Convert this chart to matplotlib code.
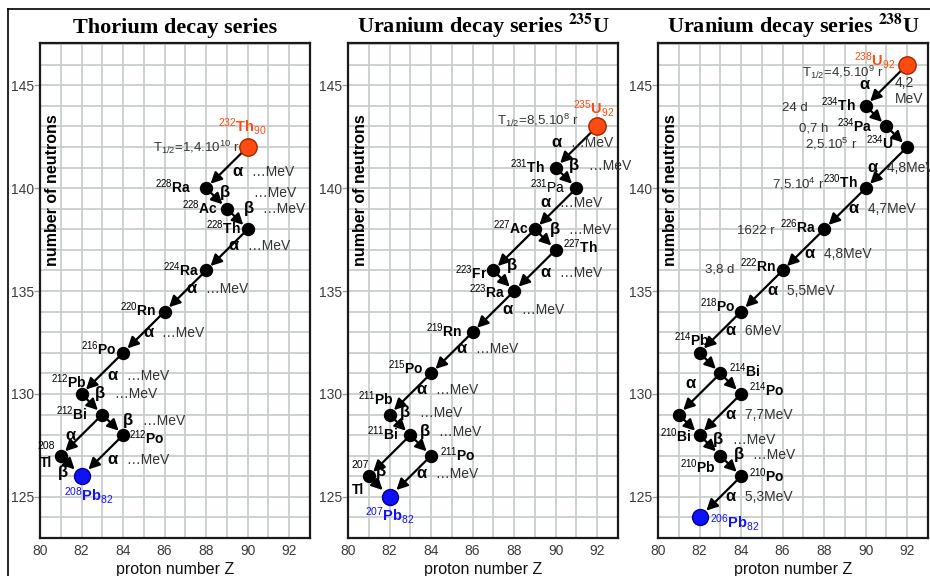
import matplotlib.pyplot as plt
from matplotlib.lines import Line2D

plt.rcParams['font.family'] = ['Liberation Sans', 'DejaVu Sans']
plt.rcParams['mathtext.fontset'] = 'custom'
plt.rcParams['mathtext.rm'] = 'Liberation Sans'
plt.rcParams['mathtext.it'] = 'Liberation Sans:italic'
plt.rcParams['mathtext.bf'] = 'Liberation Sans:bold'

# ---------------- thorium series 232Th -> 208Pb ----------------
th_sym = ['Th', 'Ra', 'Ac', 'Th', 'Ra', 'Rn', 'Po', 'Pb', 'Bi', 'Po', 'Tl', 'Pb']
th_mass = [232, 228, 228, 228, 224, 220, 216, 212, 212, 212, 208, 208]
th_z = [90, 88, 89, 90, 88, 86, 84, 82, 83, 84, 81, 82]
th_n = [142, 140, 139, 138, 136, 134, 132, 130, 129, 128, 127, 126]
th_decay = [(0, 1), (1, 2), (2, 3), (3, 4), (4, 5), (5, 6), (6, 7), (7, 8),
            (8, 9), (8, 10), (9, 11), (10, 11)]
th_energy = ['…MeV', '…MeV', '…MeV', '…MeV', '…MeV', '…MeV', '…MeV', '…MeV',
             '…MeV', '', '…MeV', '']
th_half = {0: 'T$_{1/2}$=1,4.10$^{10}$ r'}

# ---------------- uranium 235 series ----------------
u5_sym = ['U', 'Th', 'Pa', 'Ac', 'Th', 'Fr', 'Ra', 'Rn', 'Po', 'Pb', 'Bi', 'Po', 'Tl', 'Pb']
u5_mass = [235, 231, 231, 227, 227, 223, 223, 219, 215, 211, 211, 211, 207, 207]
u5_z = [92, 90, 91, 89, 90, 87, 88, 86, 84, 82, 83, 84, 81, 82]
u5_n = [143, 141, 140, 138, 137, 136, 135, 133, 131, 129, 128, 127, 126, 125]
u5_decay = [(0, 1), (1, 2), (2, 3), (3, 4), (3, 5), (4, 6), (5, 6), (6, 7), (7, 8),
            (8, 9), (9, 10), (10, 11), (10, 12), (11, 13), (12, 13)]
u5_energy = ['…MeV', '…MeV', '…MeV', '…MeV', None, '…MeV', '', '…MeV', '…MeV',
             '…MeV', '…MeV', '…MeV', None, '…MeV', '']
u5_half = {0: 'T$_{1/2}$=8,5.10$^{8}$ r'}

# ---------------- uranium 238 series ----------------
u8_sym = ['U', 'Th', 'Pa', 'U', 'Th', 'Ra', 'Rn', 'Po', 'Pb', 'Bi', 'Po', 'Tl',
          'Bi', 'Pb', 'Po', 'Pb']
u8_mass = [238, 234, 234, 234, 230, 226, 222, 218, 214, 214, 214, 210, 210, 210, 210, 206]
u8_z = [92, 90, 91, 92, 90, 88, 86, 84, 82, 83, 84, 81, 82, 83, 84, 82]
u8_n = [146, 144, 143, 142, 140, 138, 136, 134, 132, 131, 130, 129, 128, 127, 126, 124]
u8_decay = [(0, 1), (1, 2), (2, 3), (3, 4), (4, 5), (5, 6), (6, 7), (7, 8), (8, 9),
            (9, 10), (9, 11), (10, 12), (11, 12), (12, 13), (13, 14), (14, 15)]
u8_energy = ['4,2\nMeV', None, None, '4,8MeV', '4,7MeV', '4,8MeV', '5,5MeV', '6MeV',
             None, None, '', '7,7MeV', None, '…MeV', '…MeV', '5,3MeV']
u8_half = {0: 'T$_{1/2}$=4,5.10$^{9}$ r', 1: '24 d', 2: '0,7 h', 3: '2,5.10$^{5}$ r',
           4: '7,5.10$^{4}$ r', 5: '1622 r', 6: '3,8 d'}

x_ticks = [80, 82, 84, 86, 88, 90, 92]
y_ticks = [125, 130, 135, 140, 145]

# ---------------- label placement (offsets in Z / N units) ----------------
th_lab = [(-0.24, 1.0, 'center'), (-0.72, 0, 'right'), (-0.45, 0, 'right'),
          (-0.35, 0, 'right'), (-0.3, 0, 'right'), (-0.42, 0.05, 'right'),
          (-0.32, 0.13, 'right'), (0.24, 0.53, 'right'), (-0.72, 0, 'right'),
          (0.3, -0.2, 'left'), None, (0.35, -0.92, 'center')]
th_split = {10: ((-0.3, 0.48), (-0.42, -0.35))}
th_arr = [(0.5, -0.2), (0.4, 0.3), (0.55, 0.5), (0.3, 0.2), (0.3, 0.1), (0.2, 0),
          (0.5, -0.1), (0.4, 0.5), (0.75, 0.2), (-0.55, 0), (0.5, -0.2), (-0.4, -0.3)]
th_half_off = {0: (-0.4, 0.0)}
th_egap = {1: 1.2}

u5_lab = [(-0.16, 0.86, 'center'), (-0.5, 0, 'right'), (-0.5, 0, 'right'),
          (-0.3, 0, 'right'), (0.33, 0.1, 'left'), (-0.3, -0.15, 'right'),
          (-0.4, -0.1, 'right'), (-0.5, 0, 'right'), (-0.35, 0.2, 'right'),
          (0.2, 0.7, 'right'), (-0.55, 0, 'right'), (0.45, 0, 'left'), None,
          (0, -0.89, 'center')]
u5_split = {12: ((0.0, 0.56), (-0.2, -0.65))}
u5_arr = [(-0.95, 0.2), (0.4, 0.6), (-0.5, 0.3), (0.45, 0.5), (0, 0), (0.5, -0.1),
          (0.4, 0.75), (0.7, 0.1), (0.45, 0.2), (0.55, 0.2), (0.25, 0.6), (0.2, 0.7),
          (0, 0), (0.55, 0.15), (0.1, 0.75)]
u5_half_off = {0: (-0.89, 0.32)}
u5_light = {2}

u8_lab = [(-0.56, 0.2, 'right'), (-0.48, 0, 'right'), (-0.65, 0, 'right'),
          (-0.65, 0.16, 'right'), (-0.37, 0.24, 'right'), (-0.37, 0.08, 'right'),
          (-0.32, 0.16, 'right'), (-0.24, 0.24, 'right'), (0.52, 0.6, 'right'),
          (0.44, 0.05, 'left'), (0.37, 0.16, 'left'), None,
          (-0.37, -0.08, 'right'), (-0.21, -0.58, 'right'), (0.4, -0.05, 'left'),
          (0.48, -0.24, 'left')]
u8_arr = [(-1.05, 0.05), (0, 0), (0, 0), (-0.65, 0), (0.4, 0), (0.3, -0.2), (0.5, 0.05),
          (0.5, 0.1), (0, 0), (0, 0), (-0.45, 0.5), (0.5, 0), (0, 0), (0.4, 0.3),
          (0.4, 0.55), (0.5, 0)]
u8_half_off = {0: (-1.13, -0.35), 1: (-2.8, 0), 2: (-2.8, 0), 3: (-2.4, 0.16),
               4: (-2.0, 0.24), 5: (-2.4, 0), 6: (-2.3, 0.16)}
u8_eat = {0: (1.45, -0.35)}

ORANGE = '#ff4a12'
BLUE = '#1010ff'
TXT = '#333333'

panels = [
    dict(title='Thorium decay series', sym=th_sym, mass=th_mass, z=th_z, n=th_n,
         decay=th_decay, energy=th_energy, half=th_half, lab=th_lab, split=th_split,
         arr=th_arr, half_off=th_half_off, egap=th_egap, eat={}, light=set(),
         left=40),
    dict(title=r'Uranium decay series $^{\mathbf{235}}$U', sym=u5_sym, mass=u5_mass,
         z=u5_z, n=u5_n, decay=u5_decay, energy=u5_energy, half=u5_half, lab=u5_lab,
         split=u5_split, arr=u5_arr, half_off=u5_half_off, egap={}, eat={},
         light=u5_light, left=348),
    dict(title=r'Uranium decay series $^{\mathbf{238}}$U', sym=u8_sym, mass=u8_mass,
         z=u8_z, n=u8_n, decay=u8_decay, energy=u8_energy, half=u8_half, lab=u8_lab,
         split={}, arr=u8_arr, half_off=u8_half_off, egap={}, eat=u8_eat,
         light=set(), left=658),
]

W, H = 930, 576
fig = plt.figure(figsize=(W / 100, H / 100), dpi=100)
fig.patch.set_facecolor('white')

# outer frame (only top and left edge fall inside the picture)
fig.add_artist(Line2D([8 / W, 8 / W], [0, 1 - 8.5 / H], color='black', lw=1.2))
fig.add_artist(Line2D([8 / W, 1], [1 - 8.5 / H, 1 - 8.5 / H], color='black', lw=1.2))

for p in panels:
    ax = fig.add_axes([p['left'] / W, (H - 538) / H, 270 / W, 495 / H])
    ax.set_xlim(80, 93)
    ax.set_ylim(123, 147.05)
    ax.set_xticks(x_ticks)
    ax.set_xticks(range(80, 94), minor=True)
    ax.set_yticks(y_ticks)
    ax.set_yticks(range(123, 148), minor=True)
    ax.set_axisbelow(True)
    ax.grid(which='both', color='#c8cfc8', lw=1.3)
    ax.tick_params(axis='x', which='both', length=0, pad=4, labelsize=10, labelcolor='#3c3c3c')
    ax.tick_params(axis='y', which='major', length=4, width=1, color='#a0a0a0', pad=0.5,
                   labelsize=10, labelcolor='#3c3c3c')
    ax.tick_params(axis='y', which='minor', length=0)
    for s in ax.spines.values():
        s.set_linewidth(1.6)
        s.set_color('#1a1a1a')
    ax.set_title(p['title'], fontfamily=['Liberation Serif', 'DejaVu Serif'],
                 fontweight='bold', fontsize=16, pad=7, math_fontfamily='stix')
    ax.set_xlabel('proton number Z', fontsize=11.5, labelpad=3, color='#111111')
    ax.text(0.045, 0.703, 'number of neutrons', rotation=90, transform=ax.transAxes,
            ha='center', va='center', fontsize=11.5, fontweight='bold')

    sym, mass, z, n = p['sym'], p['mass'], p['z'], p['n']
    last = len(z) - 1

    # decay arrows with alpha / beta tags
    for k, (i, j) in enumerate(p['decay']):
        ax.annotate('', xy=(z[j], n[j]), xytext=(z[i], n[i]),
                    arrowprops=dict(arrowstyle='-|>,head_length=0.55,head_width=0.28',
                                    mutation_scale=12, color='black', lw=1.6,
                                    shrinkA=0, shrinkB=7 if j == last else 4.5),
                    zorder=3)
        en = p['energy'][k]
        if en is None:
            continue
        kind = 'α' if z[j] == z[i] - 2 else 'β'
        dx, dy = p['arr'][k]
        gx = (z[i] + z[j]) / 2 + dx
        gy = (n[i] + n[j]) / 2 + dy
        ax.text(gx, gy - 0.22, kind, ha='center', va='baseline', fontsize=12,
                fontweight='bold', zorder=6)
        if not en:
            continue
        if k in p['eat']:
            ex, ey = p['eat'][k]
            ax.text(gx + ex, gy + ey, en, ha='left', va='center', fontsize=10,
                    color=TXT, zorder=6)
        else:
            ax.text(gx + p['egap'].get(k, 0.5), gy - 0.22, ' ' + en, ha='left',
                    va='baseline', fontsize=10, color=TXT, zorder=6)

    # nuclide points
    ax.plot(z[1:last], n[1:last], 'o', color='black', ms=8.6, zorder=5)
    ax.plot(z[0], n[0], 'o', color=ORANGE, mec='#a02800', mew=1, ms=12.5, zorder=5)
    ax.plot(z[last], n[last], 'o', color=BLUE, mec='#000090', mew=1, ms=11.5, zorder=5)

    # nuclide names
    for k in range(len(z)):
        if k in p['split']:
            (ax1, ay1), (ax2, ay2) = p['split'][k]
            ax.text(z[k] + ax1, n[k] + ay1, str(mass[k]), ha='right', va='center',
                    fontsize=7.5, zorder=6)
            ax.text(z[k] + ax2, n[k] + ay2, sym[k], ha='right', va='center',
                    fontsize=10, fontweight='bold', zorder=6)
            continue
        if p['lab'][k] is None:
            continue
        dx, dy, ha = p['lab'][k]
        if k == 0:
            label, color, size = f'$^{{{mass[k]}}}${sym[k]}$_{{{z[k]}}}$', ORANGE, 10.5
        elif k == last:
            label, color, size = f'$^{{{mass[k]}}}${sym[k]}$_{{{z[k]}}}$', BLUE, 10.5
        else:
            label, color, size = f'$^{{{mass[k]}}}${sym[k]}', 'black', 10
        weight = 'normal' if k in p['light'] else 'bold'
        ax.text(z[k] + dx, n[k] + dy - 0.25, label, ha=ha, va='baseline', fontsize=size,
                color=color, fontweight=weight, zorder=6)

    # half-lives
    for k, txt in p['half'].items():
        dx, dy = p['half_off'][k]
        ax.text(z[k] + dx, n[k] + dy - 0.25, txt, ha='right', va='baseline',
                fontsize=9.5, color=TXT, zorder=6)

plt.savefig('out.png', dpi=100)
